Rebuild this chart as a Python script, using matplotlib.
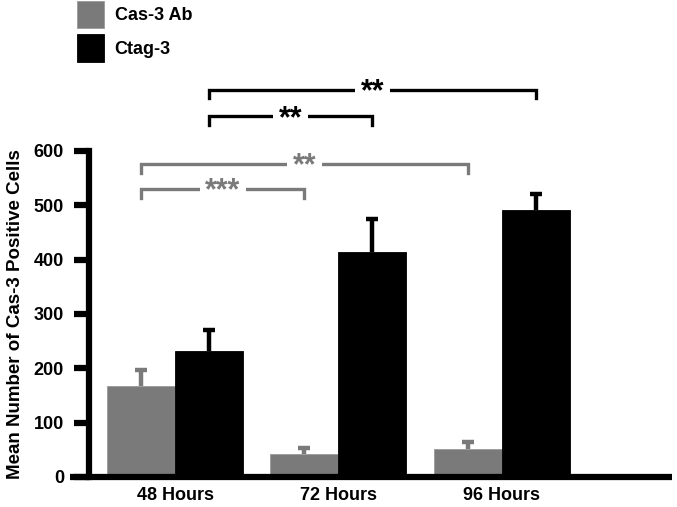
import matplotlib
matplotlib.use("Agg")
import matplotlib.pyplot as plt
import numpy as np

plt.rcParams['font.family'] = ['Liberation Sans', 'DejaVu Sans']
plt.rcParams['font.weight'] = 'bold'

categories = ["48 Hours", "72 Hours", "96 Hours"]
series_names = ["Cas-3 Ab", "Ctag-3"]
cas3_vals = [168, 42, 52]
cas3_err = [28, 12, 13]
ctag3_vals = [231, 415, 491]
ctag3_err = [40, 59, 29]
yticks = [0, 100, 200, 300, 400, 500, 600]
ylabel = "Mean Number of Cas-3 Positive Cells"

# significance brackets: (series, group_a, group_b, height, label)
brackets = [
    (1, 0, 2, 713, "**"),
    (1, 0, 1, 664, "**"),
    (0, 0, 2, 576, "**"),
    (0, 0, 1, 530, "***"),
]

gray = "#7a7a7a"
colors = [gray, "black"]

fig = plt.figure(figsize=(6.77, 5.07), dpi=100)
ax = fig.add_axes([0.1315, 0.0592, 0.8611, 0.643])

x = np.arange(len(categories))
w = 0.4165
cap = 0.036
b1 = ax.bar(x - w/2, cas3_vals, w, color=gray, edgecolor="#9a9a9a", linewidth=0.6,
            label=series_names[0], zorder=2)
b2 = ax.bar(x + w/2, ctag3_vals, w, color="black", edgecolor="black", linewidth=0.6,
            label=series_names[1], zorder=2)
for xs, vals, errs, c in [(x - w/2, cas3_vals, cas3_err, gray),
                          (x + w/2, ctag3_vals, ctag3_err, "black")]:
    vals = np.array(vals); tops = vals + np.array(errs)
    ax.vlines(xs, vals, tops, color=c, lw=3.2, zorder=1)
    ax.hlines(tops, xs - cap, xs + cap, color=c, lw=3.2, zorder=1)

ax.set_xlim(-0.5265, 3.043)
ax.set_ylim(0, 600)
ax.set_yticks(yticks)
ax.set_xticks(x)
ax.set_xticklabels(categories, fontsize=13, fontweight="bold")
ax.tick_params(axis="x", length=0, pad=7)
ax.tick_params(axis="y", length=11, width=4.5, labelsize=13, pad=7)
for lab in ax.get_yticklabels():
    lab.set_fontweight("bold")
for s in ["top", "right"]:
    ax.spines[s].set_visible(False)
ax.spines["left"].set_linewidth(4.5)
ax.spines["bottom"].set_linewidth(4.5)
ax.spines["bottom"].set_bounds(-0.64, 3.043)
ax.spines["bottom"].set_capstyle("butt")
ax.set_ylabel(ylabel, fontsize=13.5, fontweight="bold", labelpad=7)

drop = 16
for s, ga, gb, h, lab in brackets:
    off = -w/2 if s == 0 else w/2
    xa, xb = ga + off, gb + off
    c = colors[s]
    ax.plot([xa, xa, xb, xb], [h - drop, h, h, h - drop], color=c, lw=2.4,
            clip_on=False, solid_joinstyle="miter", zorder=3)
    ax.text((xa + xb) / 2, h - 5, lab, ha="center", va="center", color=c,
            fontsize=22, fontweight="bold", clip_on=False, zorder=4,
            bbox=dict(facecolor="white", edgecolor="none", pad=4))

leg = fig.legend(handles=[b1, b2], labels=series_names, loc="upper left",
                 bbox_to_anchor=(0.108, 1.006), frameon=False, fontsize=13,
                 handlelength=1.5, handleheight=2.0, labelspacing=0.3,
                 handletextpad=0.6, borderaxespad=0.0, borderpad=0.2)
for t in leg.get_texts():
    t.set_fontweight("bold")

fig.savefig("out.png", dpi=100)
